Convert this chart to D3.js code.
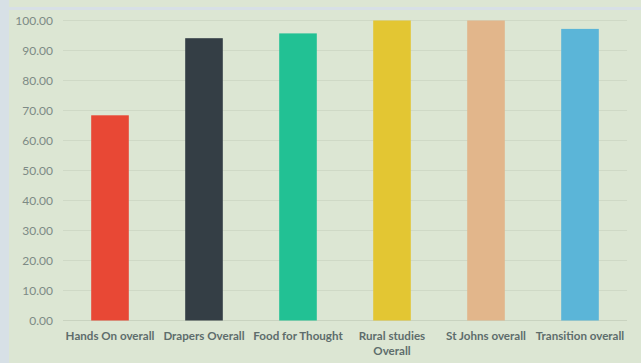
<!DOCTYPE html>
<html><head><meta charset="utf-8">
<script src="https://cdn.jsdelivr.net/npm/d3@7"></script>
<style>body{margin:0;background:#d7e0e6;} svg{display:block;}</style>
</head><body>
<script>
const categories = ["Hands On overall","Drapers Overall","Food for Thought","Rural studies Overall","St Johns overall","Transition overall"];
const values = [68.4, 94.1, 95.7, 100.0, 100.0, 97.2];
const colors = ["#e84835","#343e45","#22c194","#e3c633","#e2b68b","#5bb5d8"];
const tickValues = [0,10,20,30,40,50,60,70,80,90,100];

const W=641,H=363;
const svg=d3.select("body").append("svg").attr("width",W).attr("height",H);
svg.append("rect").attr("width",W).attr("height",H).attr("fill","#d7e0e6");
svg.append("rect").attr("x",9).attr("y",0).attr("width",W-9).attr("height",7).attr("fill","#dce6d3");
svg.append("rect").attr("x",9).attr("y",10).attr("width",W-9).attr("height",H-10).attr("fill","#dce6d3");

const x=d3.scaleBand().domain(categories).range([63,627]).paddingInner(0.6).paddingOuter(0.3);
const y=d3.scaleLinear().domain([0,100]).range([320.5,20.5]);

const grid=svg.append("g");
grid.selectAll("line").data(tickValues).join("line")
 .attr("x1",63).attr("x2",627).attr("y1",d=>y(d)).attr("y2",d=>y(d))
 .attr("stroke",d=>d===0?"#c9d3c0":"#cfd9c6").attr("stroke-width",1);

const yAxis=d3.axisLeft(y).tickValues(tickValues).tickFormat(d3.format(".2f")).tickSize(0).tickPadding(0);
const ga=svg.append("g").attr("transform","translate(53,0)").call(yAxis);
ga.select(".domain").remove();
ga.selectAll("text").attr("font-family","Lato, 'Open Sans', sans-serif").attr("font-size","12px").attr("fill","#7d8a85");

svg.append("g").selectAll("rect").data(values).join("rect")
 .attr("x",(d,i)=>x(categories[i])).attr("width",x.bandwidth())
 .attr("y",d=>y(d)).attr("height",d=>y(0)-y(d))
 .attr("fill",(d,i)=>colors[i]);

const xAxis=d3.axisBottom(x).tickSize(0).tickPadding(0);
const gx=svg.append("g").attr("transform","translate(0,332)").call(xAxis);
gx.select(".domain").remove();
gx.selectAll("text").attr("font-family","Lato, 'Open Sans', sans-serif").attr("font-size","11.6px").attr("font-weight","bold").attr("fill","#5e6d6c")
 .each(function(d){
   const t=d3.select(this);
   if(d==="Rural studies Overall"){
     t.text(null);
     t.append("tspan").attr("x",0).attr("dy","0.71em").text("Rural studies");
     t.append("tspan").attr("x",0).attr("dy","1.3em").text("Overall");
     t.attr("dy",null);
   }
 });
</script>
</body></html>
